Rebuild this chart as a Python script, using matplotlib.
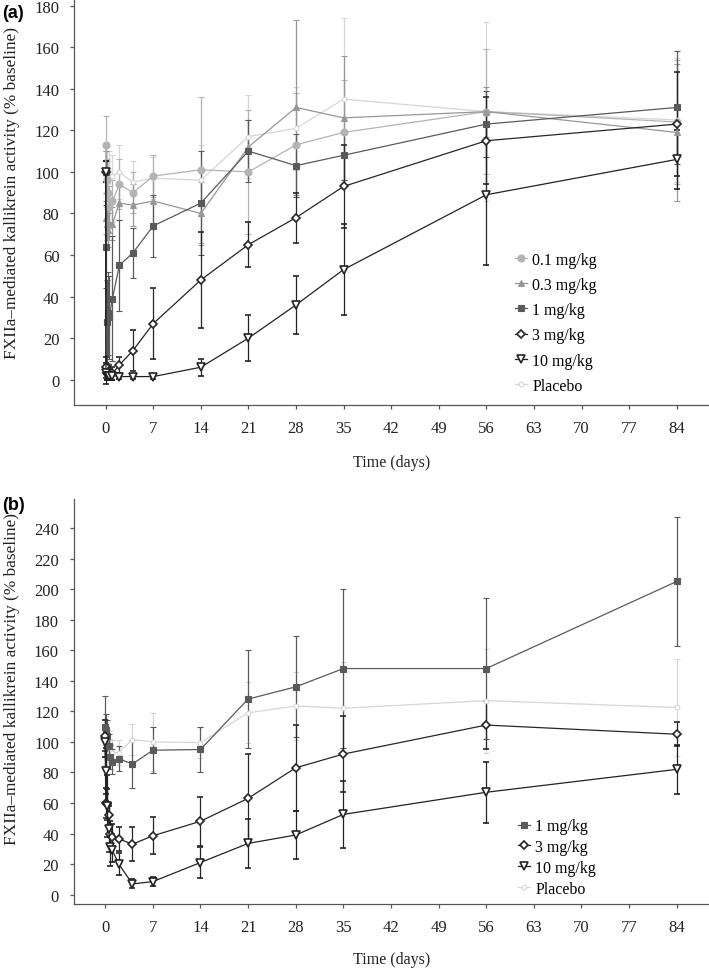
import matplotlib
matplotlib.use("Agg")
import matplotlib.pyplot as plt
from matplotlib.lines import Line2D
import numpy as np

# ---------------- data: panel (a) ----------------
days_a = [0, 0.04, 0.17, 0.33, 0.5, 1, 2, 4, 7, 14, 21, 28, 35, 56, 84]
a_01 = [113, 100, 96, 90, 83, 86, 94, 90, 98, 101, 100, 113, 119, 129, 124]
a_01_sd = [14, 10, 10, 10, 10, 10, 12, 10, 10, 35, 30, 25, 25, 30, 30]
a_03 = [100, 78, 75, 72, 75, 75, 85, 84, 86, 80, 112, 131, 126, 129, 119]
a_03_sd = [10, 8, 8, 8, 8, 8, 8, 10, 12, 15, 13, 42, 30, 12, 33]
a_1 = [100, 64, 28, 32, 30, 39, 55, 61, 74, 85, 110, 103, 108, 123, 131]
a_1_sd = [5, 20, 20, 20, 20, 30, 22, 12, 15, 25, 15, 15, 12, 16, 27]
a_3 = [100, 6, 3, 3, 4, 3, 7, 14, 27, 48, 65, 78, 93, 115, 123]
a_3_sd = [5, 5, 3, 3, 3, 3, 4, 10, 17, 23, 11, 12, 20, 21, 25]
a_10 = [100, 3, 2, 2, 2, 2, 1.5, 1.5, 1.5, 6, 20, 36, 53, 89, 106]
a_10_sd = [5, 5, 2, 2, 2, 2, 1, 1, 1, 4, 11, 14, 22, 34, 14]
a_pl = [100, 97, 100, 95, 100, 98, 100, 95, 97, 96, 117, 121, 135, 129, 125]
a_pl_sd = [2, 15, 10, 10, 10, 10, 13, 10, 10, 17, 20, 20, 39, 43, 30]

# ---------------- data: panel (b) ----------------
days_b = [0, 0.08, 0.25, 0.5, 0.75, 1, 2, 4, 7, 14, 21, 28, 35, 56, 84]
b_1 = [110, 108, 104, 97, 90, 87, 89, 85.5, 94.5, 95, 128, 136, 148, 148, 205]
b_1_sd = [20, 10, 10, 8, 8, 8, 8, 16, 15, 15, 32, 33, 52, 46, 42]
b_3 = [104, 60, 59, 52, 40, 38, 36.5, 33, 38.5, 48, 63, 83, 92, 111, 105]
b_3_sd = [10, 10, 10, 8, 8, 8, 8, 11, 12, 16, 29, 28, 25, 16, 8]
b_10 = [100, 81, 58, 43, 31, 29.5, 20, 7, 8.5, 21, 33.5, 39, 52.5, 67, 82]
b_10_sd = [10, 15, 20, 15, 12, 8, 7, 3, 3, 10, 16, 16, 22, 20, 16]
b_pl = [100, 103, 98, 97, 94, 93, 93, 101.5, 100, 99.5, 119, 123.5, 122, 127, 122.5]
b_pl_sd = [15, 10, 10, 10, 8, 8, 8, 10, 19, 10, 20, 22, 30, 34, 32]

xticks = list(range(0, 85, 7))
yticks_a = list(range(0, 181, 20))
yticks_b = list(range(0, 241, 20))

ylabel = "FXIIa\u2013mediated kallikrein activity (% baseline)"
xlabel = "Time (days)"

plt.rcParams['font.family'] = ['Liberation Serif', 'DejaVu Serif']

styles = {
    "0.1 mg/kg": dict(color="#b3b3b3", marker="o", ms=5, mfc="#b3b3b3", mew=0.8),
    "0.3 mg/kg": dict(color="#979797", marker="^", ms=5, mfc="#979797", mew=0.8),
    "1 mg/kg": dict(color="#5a5a5a", marker="s", ms=4.6, mfc="#5a5a5a", mew=0.8),
    "3 mg/kg": dict(color="#262626", marker="D", ms=4.0, mfc="white", mew=1.2),
    "10 mg/kg": dict(color="#222222", marker="v", ms=5.3, mfc="white", mew=1.2),
    "Placebo": dict(color="#d6d6d6", marker="o", ms=3.3, mfc="white", mew=0.8),
}

fig = plt.figure(figsize=(7.09, 9.70), dpi=100)
ax_a = fig.add_axes([74/709, (970-406)/970, (709-74)/709, 406/970])
ax_b = fig.add_axes([73.5/709, (970-905)/970, 635.5/709, 405/970])

def draw(ax, x, series, order):
    for lab in order:
        y, sd = series[lab]
        st = styles[lab]
        ax.errorbar(x, y, yerr=sd, color=st["color"], marker=st["marker"],
                    ms=st["ms"], mfc=st["mfc"], mec=st["color"], mew=st["mew"],
                    lw=0.9, elinewidth=0.9, capsize=2.5, capthick=0.9,
                    clip_on=False, zorder=3)

def style_axes(ax, yticks, ylim):
    ax.set_xlim(-4.66, 88.75)
    ax.set_ylim(*ylim)
    ax.set_xticks(xticks)
    ax.set_yticks(yticks)
    for s in ("top", "right"):
        ax.spines[s].set_visible(False)
    for s in ("left", "bottom"):
        ax.spines[s].set_color("#555555")
        ax.spines[s].set_linewidth(0.9)
    ax.tick_params(direction="out", length=3, width=0.9, color="#555555",
                   labelsize=12, pad=7.5, labelcolor="#222222")

series_a = {
    "Placebo": (a_pl, a_pl_sd),
    "0.1 mg/kg": (a_01, a_01_sd),
    "0.3 mg/kg": (a_03, a_03_sd),
    "1 mg/kg": (a_1, a_1_sd),
    "3 mg/kg": (a_3, a_3_sd),
    "10 mg/kg": (a_10, a_10_sd),
}
series_b = {
    "Placebo": (b_pl, b_pl_sd),
    "1 mg/kg": (b_1, b_1_sd),
    "3 mg/kg": (b_3, b_3_sd),
    "10 mg/kg": (b_10, b_10_sd),
}

draw(ax_a, days_a, series_a, ["Placebo", "0.1 mg/kg", "0.3 mg/kg", "1 mg/kg", "3 mg/kg", "10 mg/kg"])
draw(ax_b, days_b, series_b, ["Placebo", "1 mg/kg", "3 mg/kg", "10 mg/kg"])
style_axes(ax_a, yticks_a, (-12.18, 183.2))
style_axes(ax_b, yticks_b, (-6.15, 259.0))

def handles(labels):
    hs = []
    for lab in labels:
        st = styles[lab]
        hs.append(Line2D([0], [0], color=st["color"], marker=st["marker"], ms=st["ms"],
                         mfc=st["mfc"], mec=st["color"], mew=st["mew"], lw=0.9))
    return hs

leg_a_labels = ["0.1 mg/kg", "0.3 mg/kg", "1 mg/kg", "3 mg/kg", "10 mg/kg", "Placebo"]
ax_a.legend(handles(leg_a_labels), leg_a_labels, loc="upper left",
            bbox_to_anchor=(0.695, 0.378), frameon=False, fontsize=11.5,
            handlelength=0.7, handletextpad=0.35, labelspacing=0.58, borderaxespad=0,
            borderpad=0)
leg_b_labels = ["1 mg/kg", "3 mg/kg", "10 mg/kg", "Placebo"]
ax_b.legend(handles(leg_b_labels), leg_b_labels, loc="upper left",
            bbox_to_anchor=(0.70, 0.212), frameon=False, fontsize=11.5,
            handlelength=0.7, handletextpad=0.35, labelspacing=0.3, borderaxespad=0,
            borderpad=0)

fig.text(12/709, 1-193/970, ylabel, rotation=90, ha="center", va="center", fontsize=12.4, color="#222222")
fig.text(12/709, 1-679/970, ylabel, rotation=90, ha="center", va="center", fontsize=12.4, color="#222222")
fig.text(391.5/709, 1-463/970, xlabel, ha="center", va="center", fontsize=11.5, color="#222222")
fig.text(391.5/709, 1-960/970, xlabel, ha="center", va="center", fontsize=11.5, color="#222222")

fig.text(2/709, 1-13/970, "(a)", ha="left", va="center", fontsize=13, fontweight="bold",
         family=["Liberation Sans", "DejaVu Sans"])
fig.text(2/709, 1-505/970, "(b)", ha="left", va="center", fontsize=13, fontweight="bold",
         family=["Liberation Sans", "DejaVu Sans"])

fig.savefig("out.png", dpi=100)
